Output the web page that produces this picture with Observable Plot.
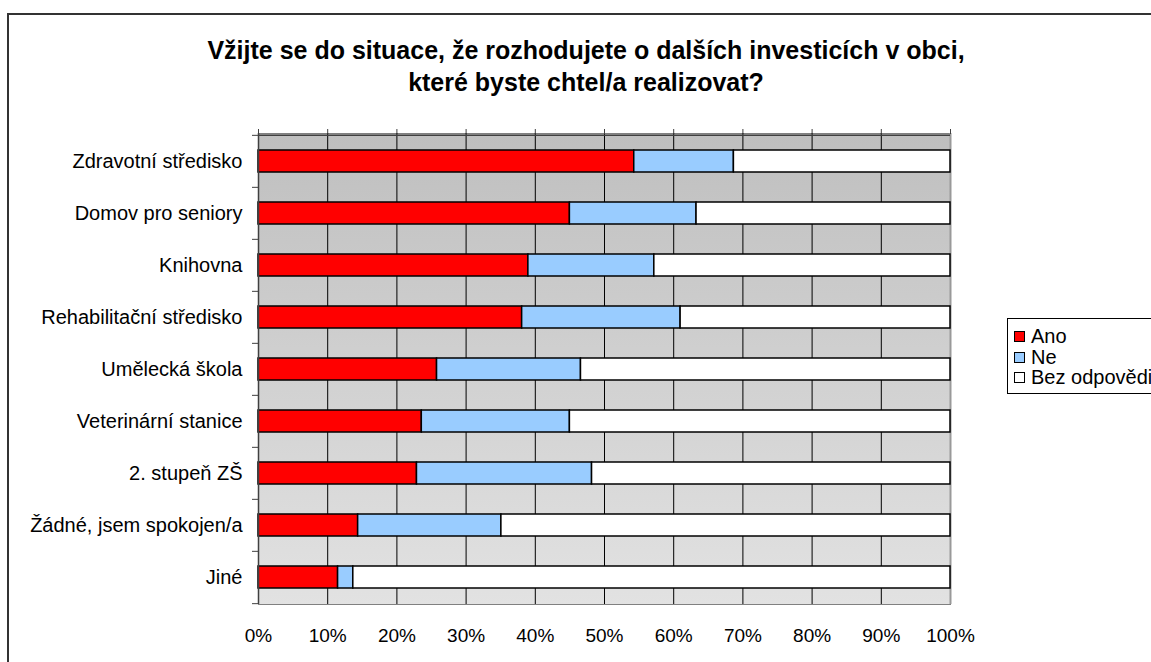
<!DOCTYPE html>
<html><head><meta charset="utf-8">
<script src="https://cdn.jsdelivr.net/npm/d3@7"></script>
<script src="https://cdn.jsdelivr.net/npm/@observablehq/plot@0.6"></script>
<style>
html,body{margin:0;padding:0;background:#fff;overflow:hidden;}
#wrap{position:relative;width:1151px;height:662px;overflow:hidden;font-family:"Liberation Sans",Arial,sans-serif;color:#000;}
#frame{position:absolute;left:7px;top:13px;width:1200px;height:720px;border:2px solid #333;box-sizing:border-box;}
#title{position:absolute;left:0;width:1172px;top:34px;text-align:center;font-weight:bold;font-size:25px;line-height:32px;}
#chart{position:absolute;left:0;top:0;}
#legend{position:absolute;left:1007px;top:318px;width:220px;height:76px;border:1px solid #000;box-sizing:border-box;background:#fff;}
.sw{position:absolute;width:11px;height:11px;border:1px solid #000;box-sizing:border-box;}
.lt{position:absolute;font-size:20px;line-height:20px;white-space:nowrap;}
</style></head>
<body>
<div id="wrap">
  <div id="frame"></div>
  <div id="title">Vžijte se do situace, že rozhodujete o dalších investicích v obci,<br>které byste chtel/a realizovat?</div>
  <div id="chart"></div>
  <div id="legend"></div>
</div>
<script>
const categories = ["Zdravotní středisko","Domov pro seniory","Knihovna","Rehabilitační středisko","Umělecká škola","Veterinární stanice","2. stupeň ZŠ","Žádné, jsem spokojen/a","Jiné"];
const ano = [54.3,45.0,39.0,38.1,25.8,23.6,22.9,14.4,11.5];
const ne  = [14.4,18.3,18.2,22.9,20.8,21.4,25.3,20.7,2.2];
const bez = ano.map((a,i)=>+(100-a-ne[i]).toFixed(1));
const series = ["Ano","Ne","Bez odpovědi"];
const colors = ["#ff0000","#99ccff","#ffffff"];
const xTicks = [0,10,20,30,40,50,60,70,80,90,100];

const rows = categories.flatMap((c,i)=>[
  {cat:c, series:"Ano", value:ano[i]},
  {cat:c, series:"Ne", value:ne[i]},
  {cat:c, series:"Bez odpovědi", value:bez[i]}
]);

const H=662, mt=133, mb=58;
const step=(H-mt-mb)/categories.length;

const chart = Plot.plot({
  width:1151, height:H, marginLeft:258, marginRight:201, marginTop:mt, marginBottom:mb,
  style:{fontFamily:"'Liberation Sans', Arial, sans-serif", fontSize:"19px", color:"#000", background:"transparent", overflow:"visible"},
  x:{domain:[0,100], label:null},
  y:{domain:categories, paddingInner:0.58, paddingOuter:0.29, label:null},
  color:{domain:series, range:colors},
  marks:[
    Plot.frame({fill:"url(#bggrad)", stroke:"#808080"}),
    Plot.ruleX(xTicks.slice(1,-1), {stroke:"#000", strokeWidth:1}),
    Plot.ruleX([100], {stroke:"#999", strokeWidth:2}),
    Plot.barX(rows, {x:"value", y:"cat", fill:"series", stroke:"#000", strokeWidth:1.5}),
    Plot.ruleX([0], {stroke:"#404040", strokeWidth:1.5}),
    Plot.ruleY([categories[0]], {stroke:"#404040", strokeWidth:1.5, dy:-step/2}),
    Plot.axisX({anchor:"top", ticks:xTicks, tickSize:5, tickFormat:()=>"", stroke:"#404040", label:null}),
    Plot.axisX({anchor:"bottom", ticks:xTicks, tickSize:0, tickPadding:24, tickFormat:d=>d+"%", label:null}),
    Plot.axisY({anchor:"left", tickSize:6, tickFormat:()=>"", dy:-step/2, stroke:"#404040", label:null}),
    Plot.axisY({anchor:"left", ticks:[categories[categories.length-1]], tickSize:6, tickFormat:()=>"", dy:step/2, stroke:"#404040", label:null}),
    Plot.axisY({anchor:"left", tickSize:0, tickPadding:16, fontSize:20, label:null})
  ]
});
d3.select(chart).insert("defs",":first-child").html('<linearGradient id="bggrad" x1="0" y1="0" x2="0" y2="1"><stop offset="0" stop-color="#bfbfbf"/><stop offset="1" stop-color="#e2e2e2"/></linearGradient>');
document.getElementById("chart").appendChild(chart);

// legend
const ys = [336, 357, 377];
series.forEach((s,i)=>{
  d3.select("#wrap").append("div").attr("class","sw")
    .style("left","1014px").style("top",(ys[i]-5.5)+"px").style("background",colors[i]);
  d3.select("#wrap").append("div").attr("class","lt")
    .style("left","1031px").style("top",(ys[i]-10)+"px").text(s);
});
</script>
</body></html>
